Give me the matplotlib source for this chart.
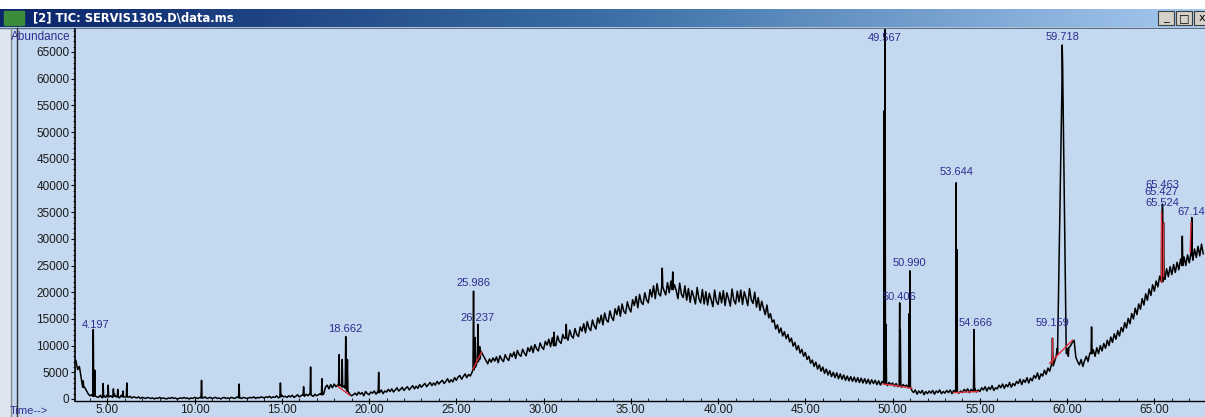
import numpy as np
import matplotlib
matplotlib.use('Agg')
import matplotlib.pyplot as plt
from matplotlib.ticker import MultipleLocator, FormatStrFormatter

# TIC trace, one scan every 0.1 min from 3.2 min, abundance in hundreds
scan_start = 3.2
scan_step = 0.1
tic_h = [
    72, 55, 61, 40, 30, 22, 16, 10, 6, 8,
    5, 9, 4, 3, 7, 2, 6, 3, 8, 4,
    6, 3, 9, 4, 5, 2, 7, 3, 4, 6,
    3, 5, 2, 4, 3, 2, 4, 1, 3, 2,
    1, 3, 2, 1, 2, 0, 2, 1, 3, 1,
    2, 1, 0, 2, 1, 3, 1, 2, 0, 1,
    2, 1, 3, 1, 2, 0, 2, 1, 3, 2,
    1, 3, 5, 2, 4, 1, 2, 3, 1, 2,
    3, 1, 2, 0, 2, 3, 1, 2, 1, 3,
    2, 1, 3, 4, 2, 1, 3, 2, 1, 2,
    3, 2, 4, 1, 3, 2, 4, 3, 2, 4,
    3, 5, 2, 4, 3, 6, 2, 5, 7, 4,
    5, 3, 6, 4, 7, 3, 5, 8, 4, 6,
    8, 5, 9, 6, 10, 7, 5, 9, 6, 8,
    10, 7, 9, 22, 26, 19, 27, 21, 28, 23,
    26, 20, 27, 22, 25, 18, 14, 9, 6, 8,
    11, 7, 13, 9, 12, 6, 14, 10, 8, 13,
    11, 15, 9, 14, 12, 17, 10, 15, 13, 18,
    14, 19, 13, 17, 21, 15, 18, 22, 16, 20,
    23, 17, 21, 25, 19, 24, 20, 27, 22, 26,
    29, 23, 27, 31, 25, 30, 26, 33, 28, 32,
    35, 29, 33, 38, 31, 36, 32, 40, 35, 41,
    44, 37, 42, 47, 40, 46, 43, 50, 55, 62,
    70, 82, 90, 84, 78, 72, 66, 75, 69, 77,
    71, 79, 68, 81, 74, 70, 83, 76, 72, 85,
    79, 88, 76, 91, 83, 80, 93, 86, 81, 96,
    89, 99, 87, 102, 94, 90, 105, 97, 93, 108,
    101, 112, 98, 115, 104, 100, 118, 108, 104, 121,
    113, 126, 110, 129, 118, 114, 132, 121, 117, 135,
    127, 141, 124, 145, 133, 128, 148, 137, 131, 152,
    142, 157, 139, 161, 148, 144, 165, 153, 147, 169,
    158, 174, 155, 178, 164, 160, 182, 170, 163, 186,
    175, 192, 171, 196, 181, 177, 199, 186, 180, 205,
    191, 212, 188, 216, 197, 193, 222, 203, 195, 218,
    199, 221, 192, 214, 203, 188, 217, 196, 190, 212,
    185, 207, 181, 203, 192, 178, 209, 188, 180, 205,
    178, 201, 176, 198, 186, 173, 204, 183, 177, 200,
    180, 203, 175, 199, 188, 174, 206, 185, 178, 202,
    182, 204, 177, 201, 189, 175, 207, 186, 179, 200,
    172, 190, 166, 183, 170, 158, 176, 152, 160, 144,
    148, 131, 139, 124, 133, 118, 126, 113, 121, 107,
    114, 99, 106, 92, 100, 86, 93, 80, 87, 74,
    80, 67, 73, 61, 69, 56, 64, 52, 60, 48,
    56, 45, 53, 42, 50, 40, 49, 38, 47, 37,
    45, 35, 43, 34, 42, 33, 41, 32, 40, 31,
    39, 30, 38, 29, 37, 28, 36, 29, 35, 27,
    34, 26, 33, 28, 32, 25, 31, 27, 30, 24,
    29, 23, 28, 22, 27, 24, 26, 21, 25, 16,
    12, 17, 9, 15, 11, 16, 8, 14, 10, 15,
    11, 16, 9, 15, 12, 17, 10, 14, 11, 16,
    12, 17, 10, 16, 13, 18, 11, 15, 12, 18,
    14, 19, 12, 18, 15, 20, 13, 17, 14, 21,
    17, 23, 15, 22, 18, 25, 16, 21, 19, 26,
    21, 28, 20, 27, 23, 31, 22, 29, 25, 33,
    29, 37, 27, 36, 31, 40, 30, 39, 34, 44,
    39, 49, 37, 47, 43, 54, 46, 58, 52, 64,
    62, 72, 70, 78, 76, 84, 82, 90, 88, 96,
    100, 106, 110, 78, 70, 64, 74, 61, 72, 80,
    70, 86, 76, 92, 80, 96, 85, 100, 90, 104,
    95, 110, 100, 116, 106, 122, 112, 128, 118, 134,
    126, 143, 133, 151, 141, 160, 150, 170, 158, 178,
    168, 188, 176, 197, 185, 206, 194, 214, 202, 221,
    210, 230, 218, 238, 224, 244, 229, 248, 233, 252,
    237, 256, 242, 262, 246, 266, 250, 270, 255, 275,
    260, 281, 265, 286, 268, 290, 272,
]

# peaks: retention time, apex (k), foot (k), half width (min)
peak_rt = [3.62, 4.197, 4.28, 4.76, 5.05, 5.35, 5.6, 5.9, 6.12,
           10.40, 12.55, 14.92, 16.25, 16.65, 17.3,
           18.28, 18.46, 18.662, 18.76, 20.55,
           25.986, 26.08, 26.237, 26.34, 30.6, 31.3, 36.8, 37.4,
           49.52, 49.567, 49.62, 50.406, 50.44, 50.95, 50.990,
           53.644, 53.68, 54.666, 59.159, 59.70, 59.718, 59.74, 61.4,
           65.427, 65.463, 65.524, 66.6, 67.14]
peak_top = [3.4, 13.0, 5.4, 2.9, 2.6, 1.9, 1.8, 1.5, 3.0,
            3.5, 2.8, 3.0, 2.3, 6.0, 3.8,
            8.3, 7.4, 11.7, 7.4, 5.0,
            20.2, 11.5, 14.0, 9.8, 12.5, 14.0, 24.5, 23.8,
            54.0, 70.0, 14.0, 18.0, 13.0, 16.0, 24.0,
            40.5, 28.0, 13.0, 11.4, 58.0, 66.3, 63.0, 13.5,
            35.0, 36.5, 33.0, 30.5, 34.0]
peak_foot = [2.2, 0.5, 0.6, 0.4, 0.4, 0.5, 0.4, 0.4, 0.4,
             0.2, 0.2, 0.4, 0.7, 0.8, 0.8,
             2.5, 2.3, 2.0, 1.5, 1.2,
             5.5, 6.0, 7.0, 7.5, 10.0, 11.5, 21.0, 20.5,
             3.0, 2.8, 3.0, 2.5, 2.5, 2.3, 2.3,
             1.3, 1.3, 1.5, 7.0, 8.5, 8.0, 9.5, 8.5,
             22.0, 22.0, 23.0, 25.0, 27.0]
peak_hw = [0.03] * 39 + [0.25, 0.35, 0.3] + [0.03] * 6

# integration baselines (red)
red_t0 = [18.2, 25.95, 49.45, 50.2, 53.5, 59.0, 59.15, 65.38, 65.5, 67.05]
red_y0 = [2.4, 5.6, 2.8, 2.5, 1.2, 6.7, 6.8, 22.0, 23.0, 27.5]
red_t1 = [18.9, 26.45, 50.2, 51.1, 54.9, 60.3, 59.15, 65.38, 65.5, 67.1]
red_y1 = [0.7, 8.8, 2.5, 2.0, 1.4, 11.0, 11.4, 35.0, 33.0, 33.0]

# peak labels
label_text = ['4.197', '18.662', '25.986', '26.237', '49.567', '50.406',
              '50.990', '53.644', '54.666', '59.159', '59.718',
              '65.463', '65.427', '65.524', '67.14']
label_rt = [4.3, 18.62, 25.986, 26.237, 49.55, 50.4, 50.99, 53.65,
            54.75, 59.15, 59.72, 65.45, 65.4, 65.45, 67.1]
label_k = [13.9, 13.1, 21.7, 15.2, 67.6, 19.1, 25.5, 42.5, 14.2, 14.2,
           67.8, 40.1, 38.8, 36.7, 35.0]

bg = '#c4d9ef'
navy = '#2c2c90'
W, H = 1205, 417

fig = plt.figure(figsize=(W / 100, H / 100), dpi=100)
fig.patch.set_facecolor(bg)

# window chrome in pixel coordinates
chrome = fig.add_axes([0, 0, 1, 1], zorder=-1)
chrome.set_xlim(0, W)
chrome.set_ylim(H, 0)
chrome.axis('off')
chrome.add_patch(plt.Rectangle((0, 0), W, 9, color='white'))
grad = np.linspace(0, 1, 256).reshape(1, -1)
cmap = matplotlib.colors.LinearSegmentedColormap.from_list('tb', ['#0a246a', '#3a6ea5', '#a6caf0'])
chrome.imshow(grad, extent=(0, W, 27, 9), aspect='auto', cmap=cmap, zorder=1)
chrome.add_patch(plt.Rectangle((4, 11), 20, 14, color='#3c8c3c', zorder=2))
chrome.text(33, 18, '[2] TIC: SERVIS1305.D\\data.ms', color='white', fontsize=8.3,
            fontweight='bold', va='center', ha='left', zorder=3)
for bx, glyph in zip([1158, 1176, 1194], ['_', '\u25a1', 'x']):
    chrome.add_patch(plt.Rectangle((bx, 11), 16, 14, facecolor='#d4d0c8',
                                   edgecolor='#404040', lw=0.8, zorder=2))
    chrome.text(bx + 8, 18, glyph, fontsize=8, ha='center', va='center', zorder=3)
chrome.plot([0, W], [27.5, 27.5], color='#5a6e8a', lw=1)
chrome.add_patch(plt.Rectangle((0, 28), 10, H - 28, color='#dde6f0'))
chrome.plot([10.5, 10.5], [28, H], color='#8a8a8a', lw=1)
chrome.plot([16.5, 16.5], [28, H], color='#303030', lw=1)
chrome.text(11, 37, 'Abundance', color=navy, fontsize=8.5, family='Liberation Sans',
            va='center', ha='left')
chrome.text(10, 411, 'Time-->', color=navy, fontsize=8, family='Liberation Sans',
            va='center', ha='left')

ax = fig.add_axes([75 / W, (H - 401) / H, (W - 75) / W, 372 / H])
ax.set_facecolor(bg)

# build trace: scans plus peak triangles
scan_t = scan_start + scan_step * np.arange(len(tic_h))
scan_y = np.array(tic_h) * 100.0
keep = np.ones(len(scan_t), bool)
for rt, hw in zip(peak_rt, peak_hw):
    keep &= ~((scan_t > rt - hw) & (scan_t < rt + hw))
pk_t, pk_y = [], []
for rt, top, foot, hw in zip(peak_rt, peak_top, peak_foot, peak_hw):
    pk_t += [rt - hw, rt, rt + hw]
    pk_y += [foot * 1000, top * 1000, foot * 1000]
t_all = np.concatenate([scan_t[keep], pk_t])
y_all = np.concatenate([scan_y[keep], pk_y])
order = np.argsort(t_all, kind='stable')
ax.plot(t_all[order], y_all[order], color='black', lw=1.1)

for a, b, c, d in zip(red_t0, red_y0, red_t1, red_y1):
    ax.plot([a, c], [b * 1000, d * 1000], color='#e0303a', lw=1)

for s, rt, k in zip(label_text, label_rt, label_k):
    ax.text(rt, k * 1000, s, ha='center', va='center', fontsize=8,
            color=navy, family='Liberation Sans', clip_on=False)

ax.set_xlim(3.15, 67.9)
ax.set_ylim(-375, 69300)
for side in ['top', 'right']:
    ax.spines[side].set_visible(False)
ax.spines['left'].set_linewidth(1.2)
ax.spines['bottom'].set_linewidth(1)
ax.xaxis.set_major_locator(MultipleLocator(5))
ax.xaxis.set_minor_locator(MultipleLocator(1))
ax.xaxis.set_major_formatter(FormatStrFormatter('%.2f'))
ax.yaxis.set_major_locator(MultipleLocator(5000))
ax.yaxis.set_minor_locator(MultipleLocator(1000))
ax.tick_params(axis='x', which='major', direction='inout', length=5, pad=0,
               labelsize=8.5, labelcolor='#1a1a1a')
ax.tick_params(axis='x', which='minor', direction='in', length=2)
ax.tick_params(axis='y', which='major', direction='out', length=3, pad=1,
               labelsize=8.5, labelcolor='#1a1a1a')
ax.tick_params(axis='y', which='minor', direction='out', length=1.5)
for lab in ax.get_xticklabels() + ax.get_yticklabels():
    lab.set_family('Liberation Sans')

fig.savefig('out.png', dpi=100, facecolor=fig.get_facecolor())
